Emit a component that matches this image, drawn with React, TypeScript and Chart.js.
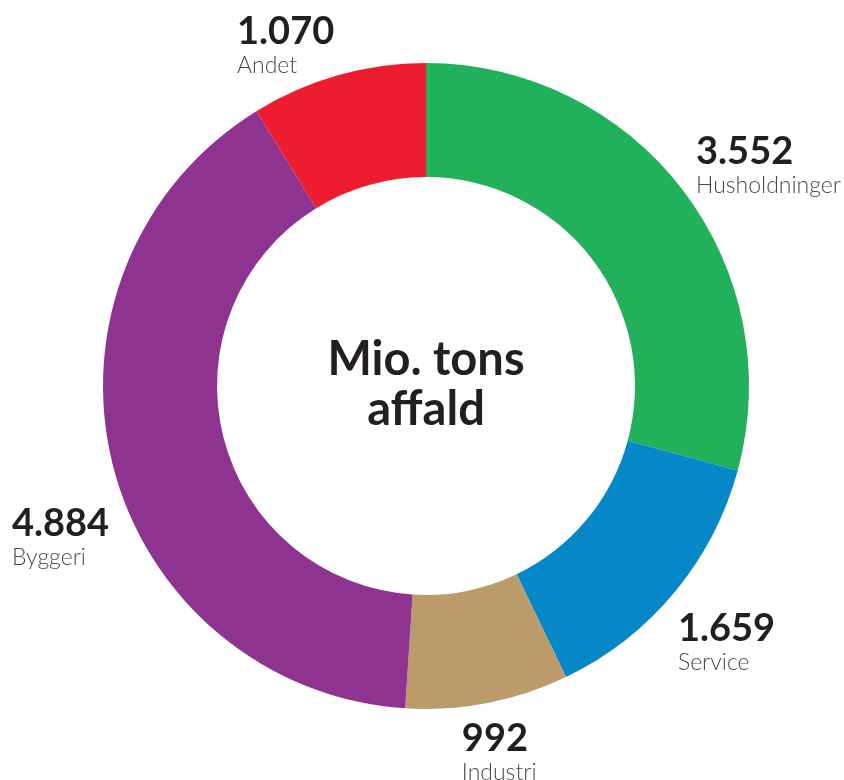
import React, { useEffect, useRef } from "react";
import { Chart, registerables } from "chart.js";

Chart.register(...registerables);

const categories = ["Husholdninger", "Service", "Industri", "Byggeri", "Andet"];
const values = [3552, 1659, 992, 4884, 1070];
const valueLabels = ["3.552", "1.659", "992", "4.884", "1.070"];
const colors = ["#23b05b", "#0587c8", "#bc9b6a", "#8e3390", "#ed1c2e"];
const centerLines = ["Mio. tons", "affald"];
// label anchor (left edge, value baseline) relative to centre, in units of outer radius
const labelAnchors = [
  [0.836, -0.687],
  [0.78, 0.789],
  [0.111, 1.13],
  [-1.282, 0.464],
  [-0.585, -1.059],
];

const FONT = "Lato, 'Open Sans', sans-serif";

const labelPlugin = {
  id: "customLabels",
  afterDraw(chart: any) {
    const ctx = chart.ctx;
    const meta = chart.getDatasetMeta(0);
    const arc = meta.data[0];
    if (!arc) return;
    const cx = arc.x;
    const cy = arc.y;
    const R = arc.outerRadius;
    ctx.save();
    ctx.textAlign = "left";
    ctx.textBaseline = "alphabetic";
    categories.forEach((name, i) => {
      const [ax, ay] = labelAnchors[i];
      const x = cx + ax * R;
      const y = cy + ay * R;
      ctx.fillStyle = "#231f20";
      ctx.font = `bold 38px ${FONT}`;
      ctx.fillText(valueLabels[i], x, y);
      ctx.fillStyle = "#4a4a4a";
      ctx.font = `300 23px ${FONT}`;
      ctx.fillText(name, x, y + 29);
    });
    ctx.textAlign = "center";
    ctx.fillStyle = "#231f20";
    ctx.font = `bold 47px ${FONT}`;
    ctx.fillText(centerLines[0], cx, cy - 11);
    ctx.fillText(centerLines[1], cx, cy + 39);
    ctx.restore();
  },
};

export default function App() {
  const ref = useRef<HTMLCanvasElement>(null);
  useEffect(() => {
    document.body.style.margin = "0";
    const chart = new Chart(ref.current!, {
      type: "doughnut",
      data: {
        labels: categories,
        datasets: [
          {
            data: values,
            backgroundColor: colors,
            borderWidth: 0,
          },
        ],
      },
      options: {
        animation: false,
        responsive: false,
        cutout: "64.7%",
        layout: { padding: { left: 103, right: 95, top: 63, bottom: 71 } },
        plugins: {
          legend: { display: false },
          tooltip: { enabled: false },
        },
      },
      plugins: [labelPlugin],
    });
    return () => chart.destroy();
  }, []);
  return (
    <div style={{ width: 844, height: 780, background: "#fff" }}>
      <canvas ref={ref} width={844} height={780} />
    </div>
  );
}
